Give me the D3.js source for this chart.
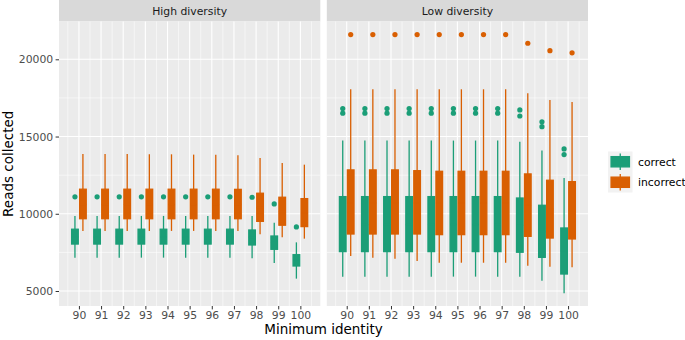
<!DOCTYPE html>
<html>
<head>
<meta charset="utf-8">
<script src="https://cdn.jsdelivr.net/npm/d3@7"></script>
<style>
  body { margin: 0; background: #fff; }
  svg { display: block; font-family: "DejaVu Sans", sans-serif; }
  .tick text { fill: #4d4d4d; font-size: 10.8px; font-family: "DejaVu Sans", sans-serif; }
  .tick line { stroke: #333; stroke-width: 1; }
</style>
</head>
<body>
<svg width="685" height="340"></svg>
<script>
// categories
const identity = [90, 91, 92, 93, 94, 95, 96, 97, 98, 99, 100];
const panels = ["High diversity", "Low diversity"];
const groups = ["correct", "incorrect"];
const colors = ["#1B9E77", "#D95F02"];
const yTicks = [5000, 10000, 15000, 20000];
const yMinor = [7500, 12500, 17500];

// High diversity, correct
const hiCorLo  = [7160, 7160, 7160, 7160, 7160, 7160, 7160, 7160, 7120, 6810, 5800];
const hiCorQ1  = [8040, 8040, 8040, 8040, 8040, 8040, 8040, 8040, 7980, 7700, 6620];
const hiCorMed = [8500, 8500, 8500, 8500, 8500, 8500, 8500, 8500, 8470, 8150, 7000];
const hiCorQ3  = [9000, 9000, 9000, 9000, 9000, 9000, 9000, 9000, 8950, 8560, 7350];
const hiCorHi  = [9860, 9860, 9860, 9860, 9860, 9860, 9860, 9860, 9860, 9420, 8150];
const hiCorOut = [[11100], [11100], [11100], [11100], [11100], [11100], [11100], [11100], [11070], [10640], [9150]];

// High diversity, incorrect
const hiIncLo  = [8890, 8890, 8890, 8890, 8890, 8890, 8890, 8880, 8670, 8480, 8390];
const hiIncQ1  = [9680, 9680, 9680, 9680, 9680, 9680, 9680, 9680, 9510, 9260, 9170];
const hiIncMed = [10600, 10600, 10600, 10600, 10600, 10600, 10600, 10600, 10400, 10150, 10050];
const hiIncQ3  = [11590, 11590, 11590, 11590, 11590, 11590, 11590, 11580, 11330, 11070, 10980];
const hiIncHi  = [13870, 13870, 13870, 13850, 13850, 13830, 13820, 13790, 13610, 13290, 13180];
const hiIncOut = [[], [], [], [], [], [], [], [], [], [], []];

// Low diversity, correct
const loCorLo  = [5930, 5930, 5930, 5930, 5930, 5930, 5930, 5930, 5930, 5670, 4850];
const loCorQ1  = [7550, 7550, 7550, 7550, 7550, 7550, 7550, 7550, 7510, 7180, 6100];
const loCorMed = [9300, 9300, 9300, 9300, 9300, 9300, 9300, 9300, 9250, 8850, 7600];
const loCorQ3  = [11110, 11110, 11110, 11110, 11110, 11110, 11110, 11110, 11020, 10550, 9080];
const loCorHi  = [14740, 14740, 14740, 14740, 14740, 14740, 14740, 14740, 14670, 14090, 12320];
const loCorOut = [[16810, 16510], [16810, 16510], [16810, 16510], [16810, 16510], [16810, 16510], [16810, 16510],
                  [16810, 16510], [16810, 16510], [16720, 16330], [15950, 15640], [14200, 13830]];

// Low diversity, incorrect
const loIncLo  = [7270, 7160, 7090, 6940, 6830, 6830, 6830, 6830, 6640, 6570, 6530];
const loIncQ1  = [8690, 8690, 8690, 8690, 8650, 8650, 8650, 8650, 8540, 8430, 8370];
const loIncMed = [10700, 10700, 10700, 10700, 10700, 10700, 10700, 10700, 10550, 10300, 10200];
const loIncQ3  = [12840, 12840, 12840, 12790, 12750, 12750, 12750, 12750, 12580, 12170, 12080];
const loIncHi  = [18060, 18060, 18060, 18060, 18060, 18060, 18060, 18060, 17800, 17370, 17240];
const loIncOut = [[21600], [21600], [21600], [21600], [21600], [21600], [21600], [21600], [21040], [20560], [20420]];

const series = [
  [[hiCorLo, hiCorQ1, hiCorMed, hiCorQ3, hiCorHi, hiCorOut], [hiIncLo, hiIncQ1, hiIncMed, hiIncQ3, hiIncHi, hiIncOut]],
  [[loCorLo, loCorQ1, loCorMed, loCorQ3, loCorHi, loCorOut], [loIncLo, loIncQ1, loIncMed, loIncQ3, loIncHi, loIncOut]]
];

const svg = d3.select("svg");
const panelX = [[59, 320.3], [326.8, 588]];
const panelTop = 21.5, panelBottom = 306, stripTop = 0;
const dodge = 0.18, halfBox = 0.15;

const y = d3.scaleLinear().domain([4029, 22448]).range([panelBottom, panelTop]);

panels.forEach((name, p) => {
  const x = d3.scaleLinear().domain([89.1, 100.9]).range(panelX[p]);
  const g = svg.append("g");

  // strip
  g.append("rect")
    .attr("x", panelX[p][0]).attr("y", stripTop)
    .attr("width", panelX[p][1] - panelX[p][0]).attr("height", panelTop - stripTop)
    .attr("fill", "#d9d9d9");
  g.append("text")
    .attr("x", (panelX[p][0] + panelX[p][1]) / 2).attr("y", (stripTop + panelTop) / 2)
    .attr("dy", "0.35em").attr("text-anchor", "middle")
    .attr("fill", "#1a1a1a").attr("font-size", "10.8px")
    .text(name);

  // panel bg
  g.append("rect")
    .attr("x", panelX[p][0]).attr("y", panelTop)
    .attr("width", panelX[p][1] - panelX[p][0]).attr("height", panelBottom - panelTop)
    .attr("fill", "#ebebeb");

  // grid
  const xMinor = identity.map(d => d - 0.5).concat([100.5]);
  g.selectAll(".vmin").data(xMinor).enter().append("line")
    .attr("x1", d => x(d)).attr("x2", d => x(d)).attr("y1", panelTop).attr("y2", panelBottom)
    .attr("stroke", "#fff").attr("stroke-width", 0.55);
  g.selectAll(".hmin").data(yMinor).enter().append("line")
    .attr("x1", panelX[p][0]).attr("x2", panelX[p][1]).attr("y1", d => y(d)).attr("y2", d => y(d))
    .attr("stroke", "#fff").attr("stroke-width", 0.55);
  g.selectAll(".vmaj").data(identity).enter().append("line")
    .attr("x1", d => x(d)).attr("x2", d => x(d)).attr("y1", panelTop).attr("y2", panelBottom)
    .attr("stroke", "#fff").attr("stroke-width", 1.1);
  g.selectAll(".hmaj").data(yTicks).enter().append("line")
    .attr("x1", panelX[p][0]).attr("x2", panelX[p][1]).attr("y1", d => y(d)).attr("y2", d => y(d))
    .attr("stroke", "#fff").attr("stroke-width", 1.1);

  // boxes
  groups.forEach((grp, k) => {
    const [lo, q1, med, q3, hi, out] = series[p][k];
    const off = k === 0 ? -dodge : dodge;
    const col = colors[k];
    const bg = g.append("g");
    identity.forEach((id, i) => {
      const cx = x(id + off);
      bg.append("line")
        .attr("x1", cx).attr("x2", cx).attr("y1", y(hi[i])).attr("y2", y(q3[i]))
        .attr("stroke", col).attr("stroke-width", 1.3);
      bg.append("line")
        .attr("x1", cx).attr("x2", cx).attr("y1", y(q1[i])).attr("y2", y(lo[i]))
        .attr("stroke", col).attr("stroke-width", 1.3);
      bg.append("rect")
        .attr("x", x(id + off - halfBox)).attr("y", y(q3[i]))
        .attr("width", x(id + off + halfBox) - x(id + off - halfBox))
        .attr("height", y(q1[i]) - y(q3[i]))
        .attr("fill", col).attr("stroke", col).attr("stroke-width", 1.3);
      bg.append("line")
        .attr("x1", x(id + off - halfBox)).attr("x2", x(id + off + halfBox))
        .attr("y1", y(med[i])).attr("y2", y(med[i]))
        .attr("stroke", col).attr("stroke-width", 1.3);
      out[i].forEach(v => {
        bg.append("circle").attr("cx", cx).attr("cy", y(v)).attr("r", 2.6).attr("fill", col);
      });
    });
  });

  // x axis
  const xa = g.append("g").attr("transform", `translate(0,${panelBottom})`)
    .call(d3.axisBottom(x).tickValues(identity).tickSize(3.4).tickPadding(2.4).tickFormat(d3.format("d")));
  xa.select(".domain").remove();
});

// y axis
const ya = svg.append("g").attr("transform", `translate(${panelX[0][0]},0)`)
  .call(d3.axisLeft(y).tickValues(yTicks).tickSize(3.4).tickPadding(2.4).tickFormat(d3.format("d")));
ya.select(".domain").remove();

// axis titles
svg.append("text")
  .attr("x", (panelX[0][0] + panelX[1][1]) / 2).attr("y", 334)
  .attr("text-anchor", "middle").attr("font-size", "13.5px").attr("fill", "#000")
  .text("Minimum identity");
svg.append("text")
  .attr("transform", `translate(12.5,${(panelTop + panelBottom) / 2}) rotate(-90)`)
  .attr("text-anchor", "middle").attr("font-size", "13.5px").attr("fill", "#000")
  .text("Reads collected");

// legend
const keyX = 608, keyW = 24.5, keyH = 20.5, keyTop = 151.5;
groups.forEach((grp, k) => {
  const ky = keyTop + k * keyH;
  const lg = svg.append("g");
  lg.append("rect").attr("x", keyX).attr("y", ky).attr("width", keyW).attr("height", keyH).attr("fill", "#f2f2f2");
  const cx = keyX + keyW / 2;
  lg.append("line").attr("x1", cx).attr("x2", cx).attr("y1", ky + keyH * 0.1).attr("y2", ky + keyH * 0.9)
    .attr("stroke", colors[k]).attr("stroke-width", 1.3);
  lg.append("rect")
    .attr("x", keyX + keyW * 0.125).attr("y", ky + keyH * 0.25)
    .attr("width", keyW * 0.75).attr("height", keyH * 0.5)
    .attr("fill", colors[k]).attr("stroke", colors[k]).attr("stroke-width", 1.3);
  lg.append("text").attr("x", keyX + keyW + 5.5).attr("y", ky + keyH / 2).attr("dy", "0.35em")
    .attr("font-size", "10.8px").attr("fill", "#000").text(grp);
});
</script>
</body>
</html>
